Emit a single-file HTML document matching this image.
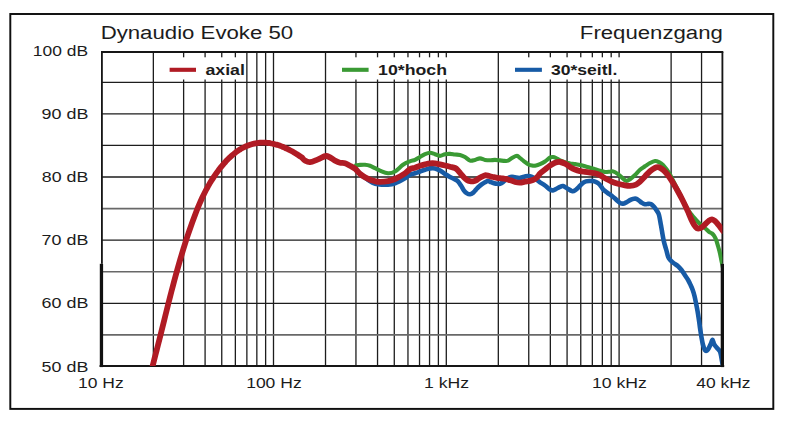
<!DOCTYPE html>
<html><head><meta charset="utf-8"><style>
html,body{margin:0;padding:0;background:#fff;overflow:hidden;}
svg{display:block;}
text{font-family:"Liberation Sans",sans-serif;fill:#1c1c1c;}
</style></head><body>
<svg width="787" height="423" viewBox="0 0 787 423">
<rect x="0" y="0" width="787" height="423" fill="#fff"/>
<rect x="10.3" y="14.0" width="763" height="394.9" fill="none" stroke="#0f0f0f" stroke-width="1.95"/>
<g stroke="#1d1d1d" stroke-width="1.3"><line x1="153.35" y1="52.0" x2="153.35" y2="366.0"/><line x1="183.62" y1="52.0" x2="183.62" y2="366.0"/><line x1="205.09" y1="52.0" x2="205.09" y2="366.0"/><line x1="221.75" y1="52.0" x2="221.75" y2="366.0"/><line x1="235.36" y1="52.0" x2="235.36" y2="366.0"/><line x1="246.87" y1="52.0" x2="246.87" y2="366.0"/><line x1="256.84" y1="52.0" x2="256.84" y2="366.0"/><line x1="265.63" y1="52.0" x2="265.63" y2="366.0"/><line x1="273.50" y1="52.0" x2="273.50" y2="366.0"/><line x1="325.52" y1="52.0" x2="325.52" y2="366.0"/><line x1="355.95" y1="52.0" x2="355.95" y2="366.0"/><line x1="377.54" y1="52.0" x2="377.54" y2="366.0"/><line x1="394.28" y1="52.0" x2="394.28" y2="366.0"/><line x1="407.96" y1="52.0" x2="407.96" y2="366.0"/><line x1="419.53" y1="52.0" x2="419.53" y2="366.0"/><line x1="429.55" y1="52.0" x2="429.55" y2="366.0"/><line x1="438.39" y1="52.0" x2="438.39" y2="366.0"/><line x1="446.30" y1="52.0" x2="446.30" y2="366.0"/><line x1="498.32" y1="52.0" x2="498.32" y2="366.0"/><line x1="528.75" y1="52.0" x2="528.75" y2="366.0"/><line x1="550.34" y1="52.0" x2="550.34" y2="366.0"/><line x1="567.08" y1="52.0" x2="567.08" y2="366.0"/><line x1="580.76" y1="52.0" x2="580.76" y2="366.0"/><line x1="592.33" y1="52.0" x2="592.33" y2="366.0"/><line x1="602.35" y1="52.0" x2="602.35" y2="366.0"/><line x1="611.19" y1="52.0" x2="611.19" y2="366.0"/><line x1="619.10" y1="52.0" x2="619.10" y2="366.0"/><line x1="671.12" y1="52.0" x2="671.12" y2="366.0"/><line x1="701.55" y1="52.0" x2="701.55" y2="366.0"/><line x1="101.9" y1="82.30" x2="722.4" y2="82.30"/><line x1="101.9" y1="113.88" x2="722.4" y2="113.88"/><line x1="101.9" y1="145.45" x2="722.4" y2="145.45"/><line x1="101.9" y1="177.02" x2="722.4" y2="177.02"/><line x1="101.9" y1="240.18" x2="722.4" y2="240.18"/><line x1="101.9" y1="303.32" x2="722.4" y2="303.32"/></g>
<g stroke="#686868" stroke-width="1.7"><line x1="101.9" y1="208.60" x2="722.4" y2="208.60"/><line x1="101.9" y1="271.75" x2="722.4" y2="271.75"/><line x1="101.9" y1="334.90" x2="722.4" y2="334.90"/></g>
<rect x="158.0" y="57.3" width="86.0" height="22.2" fill="#fff"/><rect x="331.0" y="57.3" width="162.0" height="22.2" fill="#fff"/><rect x="503.0" y="57.3" width="123.0" height="22.2" fill="#fff"/>
<g stroke="#161616" fill="none">
<line x1="101.0" y1="52.0" x2="723.3" y2="52.0" stroke-width="2"/>
<line x1="99.60000000000001" y1="366.0" x2="724.1999999999999" y2="366.0" stroke-width="2.2"/>
<line x1="101.9" y1="52.0" x2="101.9" y2="263.8" stroke-width="1.85"/>
<line x1="722.4" y1="52.0" x2="722.4" y2="263.8" stroke-width="1.85"/>
</g>
<defs><clipPath id="pc"><rect x="101.9" y="52.0" width="620.5" height="314.0"/></clipPath></defs>
<g clip-path="url(#pc)" fill="none" stroke-linecap="round" stroke-linejoin="round">
<path d="M356.00,169.50 C356.33,169.88 357.17,170.95 358.00,171.80 C358.83,172.65 359.83,173.63 361.00,174.60 C362.17,175.57 363.83,176.72 365.00,177.60 C366.17,178.48 366.83,179.10 368.00,179.90 C369.17,180.70 370.33,181.67 372.00,182.40 C373.67,183.13 375.33,183.92 378.00,184.30 C380.67,184.68 385.17,184.87 388.00,184.70 C390.83,184.53 392.17,184.37 395.00,183.30 C397.83,182.23 402.50,179.72 405.00,178.30 C407.50,176.88 408.33,175.63 410.00,174.80 C411.67,173.97 413.33,173.85 415.00,173.30 C416.67,172.75 418.33,172.08 420.00,171.50 C421.67,170.92 423.33,170.32 425.00,169.80 C426.67,169.28 428.33,168.63 430.00,168.40 C431.67,168.17 433.33,168.05 435.00,168.40 C436.67,168.75 438.33,169.57 440.00,170.50 C441.67,171.43 443.33,172.93 445.00,174.00 C446.67,175.07 448.33,176.00 450.00,176.90 C451.67,177.80 453.67,178.67 455.00,179.40 C456.33,180.13 457.00,180.27 458.00,181.30 C459.00,182.33 460.00,184.05 461.00,185.60 C462.00,187.15 463.00,189.30 464.00,190.60 C465.00,191.90 466.00,192.78 467.00,193.40 C468.00,194.02 469.00,194.38 470.00,194.30 C471.00,194.22 472.00,193.68 473.00,192.90 C474.00,192.12 475.00,190.67 476.00,189.60 C477.00,188.53 478.00,187.42 479.00,186.50 C480.00,185.58 481.00,184.82 482.00,184.10 C483.00,183.38 484.00,182.72 485.00,182.20 C486.00,181.68 487.00,181.00 488.00,181.00 C489.00,181.00 490.00,181.83 491.00,182.20 C492.00,182.57 493.00,182.93 494.00,183.20 C495.00,183.47 496.00,183.72 497.00,183.80 C498.00,183.88 499.00,183.97 500.00,183.70 C501.00,183.43 502.00,182.92 503.00,182.20 C504.00,181.48 505.00,180.18 506.00,179.40 C507.00,178.62 508.00,177.93 509.00,177.50 C510.00,177.07 511.00,176.82 512.00,176.80 C513.00,176.78 513.67,177.22 515.00,177.40 C516.33,177.58 518.33,178.05 520.00,177.90 C521.67,177.75 523.67,176.82 525.00,176.50 C526.33,176.18 526.83,175.92 528.00,176.00 C529.17,176.08 530.67,176.45 532.00,177.00 C533.33,177.55 534.67,178.42 536.00,179.30 C537.33,180.18 538.50,181.27 540.00,182.30 C541.50,183.33 543.33,184.30 545.00,185.50 C546.67,186.70 548.67,188.68 550.00,189.50 C551.33,190.32 552.00,190.48 553.00,190.40 C554.00,190.32 554.83,189.60 556.00,189.00 C557.17,188.40 558.83,187.28 560.00,186.80 C561.17,186.32 561.83,185.85 563.00,186.10 C564.17,186.35 565.50,187.47 567.00,188.30 C568.50,189.13 570.67,190.75 572.00,191.10 C573.33,191.45 573.67,191.28 575.00,190.40 C576.33,189.52 578.67,187.05 580.00,185.80 C581.33,184.55 582.00,183.63 583.00,182.90 C584.00,182.17 584.83,181.72 586.00,181.40 C587.17,181.08 588.83,181.07 590.00,181.00 C591.17,180.93 591.83,180.75 593.00,181.00 C594.17,181.25 595.83,181.83 597.00,182.50 C598.17,183.17 599.00,183.88 600.00,185.00 C601.00,186.12 602.00,188.07 603.00,189.20 C604.00,190.33 605.00,191.02 606.00,191.80 C607.00,192.58 608.00,193.20 609.00,193.90 C610.00,194.60 611.00,195.23 612.00,196.00 C613.00,196.77 614.00,197.62 615.00,198.50 C616.00,199.38 617.00,200.48 618.00,201.30 C619.00,202.12 620.00,203.05 621.00,203.40 C622.00,203.75 623.00,203.63 624.00,203.40 C625.00,203.17 626.00,202.55 627.00,202.00 C628.00,201.45 629.00,200.62 630.00,200.10 C631.00,199.58 632.00,199.13 633.00,198.90 C634.00,198.67 635.00,198.42 636.00,198.70 C637.00,198.98 638.00,199.90 639.00,200.60 C640.00,201.30 641.00,202.28 642.00,202.90 C643.00,203.52 644.00,204.13 645.00,204.30 C646.00,204.47 647.00,203.93 648.00,203.90 C649.00,203.87 650.00,203.63 651.00,204.10 C652.00,204.57 653.00,205.55 654.00,206.70 C655.00,207.85 656.17,209.62 657.00,211.00 C657.83,212.38 658.33,212.60 659.00,215.00 C659.67,217.40 660.23,221.18 661.00,225.40 C661.77,229.62 662.72,236.20 663.60,240.30 C664.48,244.40 665.53,247.22 666.30,250.00 C667.07,252.78 667.55,255.33 668.20,257.00 C668.85,258.67 669.32,259.00 670.20,260.00 C671.08,261.00 672.23,262.00 673.50,263.00 C674.77,264.00 676.47,264.83 677.80,266.00 C679.13,267.17 680.33,268.50 681.50,270.00 C682.67,271.50 683.70,273.33 684.80,275.00 C685.90,276.67 687.13,278.33 688.10,280.00 C689.07,281.67 689.83,283.33 690.60,285.00 C691.37,286.67 692.05,288.17 692.70,290.00 C693.35,291.83 693.95,293.80 694.50,296.00 C695.05,298.20 695.50,300.73 696.00,303.20 C696.50,305.67 697.00,307.95 697.50,310.80 C698.00,313.65 698.58,317.45 699.00,320.30 C699.42,323.15 699.58,325.07 700.00,327.90 C700.42,330.73 701.00,334.47 701.50,337.30 C702.00,340.13 702.42,342.75 703.00,344.90 C703.58,347.05 704.33,349.25 705.00,350.20 C705.67,351.15 706.33,351.02 707.00,350.60 C707.67,350.18 708.33,348.90 709.00,347.70 C709.67,346.50 710.42,344.72 711.00,343.40 C711.58,342.08 712.00,339.70 712.50,339.80 C713.00,339.90 713.42,342.83 714.00,344.00 C714.58,345.17 715.33,345.97 716.00,346.80 C716.67,347.63 717.33,348.22 718.00,349.00 C718.67,349.78 719.50,350.45 720.00,351.50 C720.50,352.55 720.67,353.72 721.00,355.30 C721.33,356.88 721.67,359.22 722.00,361.00 C722.33,362.78 722.83,365.17 723.00,366.00" stroke="#175ba6" stroke-width="4.6"/>
<path d="M356.00,165.40 C356.67,165.32 358.50,165.00 360.00,164.90 C361.50,164.80 363.33,164.65 365.00,164.80 C366.67,164.95 368.33,165.23 370.00,165.80 C371.67,166.37 373.33,167.40 375.00,168.20 C376.67,169.00 377.83,169.75 380.00,170.60 C382.17,171.45 385.50,173.15 388.00,173.30 C390.50,173.45 392.50,172.92 395.00,171.50 C397.50,170.08 400.50,166.50 403.00,164.80 C405.50,163.10 408.00,162.12 410.00,161.30 C412.00,160.48 413.33,160.62 415.00,159.90 C416.67,159.18 418.33,157.95 420.00,157.00 C421.67,156.05 423.33,154.90 425.00,154.20 C426.67,153.50 428.33,152.80 430.00,152.80 C431.67,152.80 433.33,153.68 435.00,154.20 C436.67,154.72 438.33,155.90 440.00,155.90 C441.67,155.90 443.33,154.53 445.00,154.20 C446.67,153.87 448.33,153.85 450.00,153.90 C451.67,153.95 453.33,154.33 455.00,154.50 C456.67,154.67 458.33,154.48 460.00,154.90 C461.67,155.32 463.33,156.05 465.00,157.00 C466.67,157.95 468.33,160.12 470.00,160.60 C471.67,161.08 473.33,160.27 475.00,159.90 C476.67,159.53 478.33,158.40 480.00,158.40 C481.67,158.40 483.33,159.58 485.00,159.90 C486.67,160.22 488.33,160.30 490.00,160.30 C491.67,160.30 493.33,159.88 495.00,159.90 C496.67,159.92 498.33,160.23 500.00,160.40 C501.67,160.57 503.67,160.87 505.00,160.90 C506.33,160.93 506.83,161.08 508.00,160.60 C509.17,160.12 510.50,158.80 512.00,158.00 C513.50,157.20 515.67,155.80 517.00,155.80 C518.33,155.80 518.83,157.08 520.00,158.00 C521.17,158.92 522.67,160.27 524.00,161.30 C525.33,162.33 526.67,163.48 528.00,164.20 C529.33,164.92 530.67,165.37 532.00,165.60 C533.33,165.83 534.67,165.83 536.00,165.60 C537.33,165.37 538.50,164.88 540.00,164.20 C541.50,163.52 543.33,162.60 545.00,161.50 C546.67,160.40 548.67,158.35 550.00,157.60 C551.33,156.85 552.00,156.93 553.00,157.00 C554.00,157.07 554.83,157.45 556.00,158.00 C557.17,158.55 558.50,159.58 560.00,160.30 C561.50,161.02 563.33,161.78 565.00,162.30 C566.67,162.82 568.33,163.10 570.00,163.40 C571.67,163.70 573.33,163.82 575.00,164.10 C576.67,164.38 578.33,164.73 580.00,165.10 C581.67,165.47 583.33,165.87 585.00,166.30 C586.67,166.73 588.33,167.23 590.00,167.70 C591.67,168.17 593.33,168.58 595.00,169.10 C596.67,169.62 598.33,170.32 600.00,170.80 C601.67,171.28 603.33,171.85 605.00,172.00 C606.67,172.15 608.67,171.80 610.00,171.70 C611.33,171.60 611.67,171.00 613.00,171.40 C614.33,171.80 616.50,173.07 618.00,174.10 C619.50,175.13 620.67,176.48 622.00,177.60 C623.33,178.72 624.67,180.53 626.00,180.80 C627.33,181.07 628.50,180.17 630.00,179.20 C631.50,178.23 633.33,176.57 635.00,175.00 C636.67,173.43 638.33,171.25 640.00,169.80 C641.67,168.35 643.33,167.43 645.00,166.30 C646.67,165.17 648.33,163.88 650.00,163.00 C651.67,162.12 653.50,161.15 655.00,161.00 C656.50,160.85 657.67,161.45 659.00,162.10 C660.33,162.75 661.67,163.60 663.00,164.90 C664.33,166.20 665.83,168.30 667.00,169.90 C668.17,171.50 669.00,172.73 670.00,174.50 C671.00,176.27 671.83,178.17 673.00,180.50 C674.17,182.83 675.67,185.83 677.00,188.50 C678.33,191.17 679.67,193.83 681.00,196.50 C682.33,199.17 683.75,202.17 685.00,204.50 C686.25,206.83 687.42,208.83 688.50,210.50 C689.58,212.17 690.58,213.32 691.50,214.50 C692.42,215.68 693.17,216.62 694.00,217.60 C694.83,218.58 695.50,219.33 696.50,220.40 C697.50,221.47 698.92,222.93 700.00,224.00 C701.08,225.07 702.00,225.97 703.00,226.80 C704.00,227.63 705.00,228.17 706.00,229.00 C707.00,229.83 708.00,231.05 709.00,231.80 C710.00,232.55 711.17,232.87 712.00,233.50 C712.83,234.13 713.33,234.58 714.00,235.60 C714.67,236.62 715.33,237.87 716.00,239.60 C716.67,241.33 717.33,243.68 718.00,246.00 C718.67,248.32 719.42,251.00 720.00,253.50 C720.58,256.00 721.00,258.58 721.50,261.00 C722.00,263.42 722.75,266.83 723.00,268.00" stroke="#3a9a34" stroke-width="4.1"/>
<path d="M150.40,374.79 C150.65,373.80 151.40,370.82 151.90,368.84 C152.40,366.87 152.90,364.91 153.40,362.95 C153.90,361.00 154.40,359.05 154.90,357.09 C155.40,355.14 155.90,353.20 156.40,351.24 C156.90,349.29 157.40,347.34 157.90,345.38 C158.40,343.42 158.90,341.45 159.40,339.47 C159.90,337.50 160.40,335.51 160.90,333.51 C161.40,331.51 161.90,329.50 162.40,327.48 C162.90,325.47 163.40,323.45 163.90,321.43 C164.40,319.40 164.90,317.38 165.40,315.36 C165.90,313.35 166.40,311.33 166.90,309.33 C167.40,307.33 167.90,305.33 168.40,303.35 C168.90,301.38 169.40,299.41 169.90,297.46 C170.40,295.51 170.90,293.57 171.40,291.65 C171.90,289.73 172.40,287.83 172.90,285.94 C173.40,284.05 173.90,282.17 174.40,280.32 C174.90,278.46 175.40,276.62 175.90,274.80 C176.40,272.98 176.90,271.18 177.40,269.39 C177.90,267.61 178.40,265.84 178.90,264.10 C179.40,262.35 179.90,260.62 180.40,258.92 C180.90,257.21 181.40,255.53 181.90,253.86 C182.40,252.20 182.90,250.55 183.40,248.93 C183.90,247.31 184.40,245.71 184.90,244.14 C185.40,242.56 185.90,241.01 186.40,239.47 C186.90,237.94 187.40,236.42 187.90,234.93 C188.40,233.43 188.90,231.96 189.40,230.51 C189.90,229.05 190.40,227.62 190.90,226.20 C191.40,224.79 191.90,223.39 192.40,222.01 C192.90,220.63 193.40,219.27 193.90,217.92 C194.40,216.58 194.90,215.25 195.40,213.94 C195.90,212.63 196.40,211.33 196.90,210.07 C197.40,208.80 197.90,207.56 198.40,206.35 C198.90,205.14 199.40,203.96 199.90,202.81 C200.40,201.66 200.90,200.54 201.40,199.44 C201.90,198.35 202.40,197.28 202.90,196.24 C203.40,195.20 203.90,194.18 204.40,193.19 C204.90,192.20 205.40,191.23 205.90,190.28 C206.40,189.34 206.90,188.42 207.40,187.51 C207.90,186.61 208.40,185.73 208.90,184.87 C209.40,184.00 209.90,183.16 210.40,182.33 C210.90,181.51 211.40,180.70 211.90,179.91 C212.40,179.11 212.90,178.34 213.40,177.58 C213.90,176.81 214.40,176.07 214.90,175.33 C215.40,174.60 215.90,173.88 216.40,173.17 C216.90,172.47 217.40,171.78 217.90,171.10 C218.40,170.42 218.90,169.75 219.40,169.10 C219.90,168.45 220.40,167.81 220.90,167.19 C221.40,166.56 221.90,165.95 222.40,165.35 C222.90,164.75 223.40,164.17 223.90,163.60 C224.40,163.02 224.90,162.46 225.40,161.92 C225.90,161.37 226.40,160.84 226.90,160.32 C227.40,159.80 227.90,159.29 228.40,158.79 C228.90,158.30 229.40,157.81 229.90,157.34 C230.40,156.87 230.90,156.41 231.40,155.97 C231.90,155.52 232.40,155.09 232.90,154.66 C233.40,154.24 233.90,153.83 234.40,153.43 C234.90,153.04 235.40,152.65 235.90,152.28 C236.40,151.90 236.90,151.54 237.40,151.19 C237.90,150.84 238.40,150.50 238.90,150.17 C239.40,149.84 239.90,149.53 240.40,149.22 C240.90,148.92 241.40,148.62 241.90,148.34 C242.40,148.06 242.90,147.79 243.40,147.53 C243.90,147.27 244.40,147.02 244.90,146.78 C245.40,146.54 245.90,146.31 246.40,146.09 C246.90,145.88 247.40,145.67 247.90,145.47 C248.40,145.28 248.90,145.09 249.40,144.92 C249.90,144.74 250.40,144.58 250.90,144.42 C251.40,144.27 251.90,144.12 252.40,143.99 C252.90,143.86 253.40,143.73 253.90,143.62 C254.40,143.50 254.90,143.40 255.40,143.30 C255.90,143.21 256.40,143.12 256.90,143.05 C257.40,142.97 257.90,142.91 258.40,142.85 C258.90,142.80 259.40,142.75 259.90,142.71 C260.40,142.67 260.90,142.65 261.40,142.63 C261.90,142.61 262.40,142.60 262.90,142.60 C263.40,142.59 263.90,142.60 264.40,142.62 C264.90,142.64 265.40,142.66 265.90,142.70 C266.40,142.73 266.90,142.77 267.40,142.82 C267.90,142.88 268.40,142.94 268.90,143.00 C269.40,143.07 269.90,143.15 270.40,143.23 C270.90,143.32 271.40,143.41 271.90,143.51 C272.40,143.61 272.90,143.72 273.40,143.84 C273.90,143.95 274.40,144.08 274.90,144.21 C275.40,144.34 275.90,144.48 276.40,144.62 C276.90,144.77 277.40,144.92 277.90,145.08 C278.40,145.24 278.90,145.41 279.40,145.59 C279.90,145.76 280.40,145.94 280.90,146.13 C281.40,146.32 281.90,146.51 282.40,146.72 C282.90,146.92 283.40,147.12 283.90,147.34 C284.40,147.55 284.90,147.77 285.40,148.00 C285.90,148.23 286.40,148.46 286.90,148.70 C287.40,148.94 287.90,149.18 288.40,149.44 C288.90,149.69 289.40,149.94 289.90,150.21 C290.40,150.47 290.90,150.74 291.40,151.01 C291.90,151.28 292.40,151.56 292.90,151.84 C293.40,152.13 293.90,152.42 294.40,152.71 C294.90,153.01 295.40,153.30 295.90,153.61 C296.40,153.91 296.90,154.22 297.40,154.53 C297.90,154.85 298.40,155.17 298.90,155.49 C299.40,155.81 299.90,156.14 300.40,156.47 C300.90,156.80 301.13,156.78 301.90,157.47 C302.67,158.16 303.65,159.81 305.00,160.60 C306.35,161.39 307.83,162.40 310.00,162.20 C312.17,162.00 315.25,160.43 318.00,159.40 C320.75,158.37 323.67,155.80 326.50,156.00 C329.33,156.20 332.75,159.48 335.00,160.60 C337.25,161.72 338.33,162.25 340.00,162.70 C341.67,163.15 343.33,162.78 345.00,163.30 C346.67,163.82 348.33,164.92 350.00,165.80 C351.67,166.68 353.67,167.60 355.00,168.60 C356.33,169.60 357.00,170.80 358.00,171.80 C359.00,172.80 359.83,173.68 361.00,174.60 C362.17,175.52 363.50,176.43 365.00,177.30 C366.50,178.17 368.33,179.15 370.00,179.80 C371.67,180.45 373.33,180.87 375.00,181.20 C376.67,181.53 377.83,181.82 380.00,181.80 C382.17,181.78 385.50,181.57 388.00,181.10 C390.50,180.63 392.17,180.30 395.00,179.00 C397.83,177.70 402.50,174.95 405.00,173.30 C407.50,171.65 408.33,170.03 410.00,169.10 C411.67,168.17 413.33,168.25 415.00,167.70 C416.67,167.15 418.33,166.35 420.00,165.80 C421.67,165.25 423.33,164.80 425.00,164.40 C426.67,164.00 428.33,163.57 430.00,163.40 C431.67,163.23 433.33,163.23 435.00,163.40 C436.67,163.57 438.33,164.05 440.00,164.40 C441.67,164.75 443.33,165.12 445.00,165.50 C446.67,165.88 448.33,166.28 450.00,166.70 C451.67,167.12 453.67,167.38 455.00,168.00 C456.33,168.62 457.00,169.37 458.00,170.40 C459.00,171.43 460.00,173.02 461.00,174.20 C462.00,175.38 463.00,176.53 464.00,177.50 C465.00,178.47 466.00,179.38 467.00,180.00 C468.00,180.62 469.00,180.97 470.00,181.20 C471.00,181.43 472.00,181.53 473.00,181.40 C474.00,181.27 475.00,180.93 476.00,180.40 C477.00,179.87 478.00,178.83 479.00,178.20 C480.00,177.57 481.00,177.08 482.00,176.60 C483.00,176.12 484.00,175.47 485.00,175.30 C486.00,175.13 487.00,175.38 488.00,175.60 C489.00,175.82 490.00,176.33 491.00,176.60 C492.00,176.87 493.00,177.00 494.00,177.20 C495.00,177.40 496.00,177.63 497.00,177.80 C498.00,177.97 499.00,178.08 500.00,178.20 C501.00,178.32 502.00,178.38 503.00,178.50 C504.00,178.62 505.00,178.67 506.00,178.90 C507.00,179.13 508.00,179.58 509.00,179.90 C510.00,180.22 511.00,180.45 512.00,180.80 C513.00,181.15 513.67,181.70 515.00,182.00 C516.33,182.30 518.33,182.65 520.00,182.60 C521.67,182.55 523.33,181.98 525.00,181.70 C526.67,181.42 528.33,181.35 530.00,180.90 C531.67,180.45 533.67,179.77 535.00,179.00 C536.33,178.23 537.17,177.22 538.00,176.30 C538.83,175.38 538.83,174.63 540.00,173.50 C541.17,172.37 543.33,170.82 545.00,169.50 C546.67,168.18 548.33,166.72 550.00,165.60 C551.67,164.48 553.33,163.40 555.00,162.80 C556.67,162.20 558.33,161.85 560.00,162.00 C561.67,162.15 563.33,162.88 565.00,163.70 C566.67,164.52 568.33,165.93 570.00,166.90 C571.67,167.87 573.33,168.80 575.00,169.50 C576.67,170.20 578.33,170.70 580.00,171.10 C581.67,171.50 583.33,171.65 585.00,171.90 C586.67,172.15 588.33,172.38 590.00,172.60 C591.67,172.82 593.33,172.77 595.00,173.20 C596.67,173.63 598.17,174.27 600.00,175.20 C601.83,176.13 604.00,177.70 606.00,178.80 C608.00,179.90 610.00,180.97 612.00,181.80 C614.00,182.63 616.00,183.23 618.00,183.80 C620.00,184.37 622.00,184.85 624.00,185.20 C626.00,185.55 628.00,186.00 630.00,185.90 C632.00,185.80 634.33,185.32 636.00,184.60 C637.67,183.88 638.50,182.97 640.00,181.60 C641.50,180.23 643.33,178.13 645.00,176.40 C646.67,174.67 648.33,172.63 650.00,171.20 C651.67,169.77 653.67,168.47 655.00,167.80 C656.33,167.13 656.83,167.00 658.00,167.20 C659.17,167.40 660.67,168.08 662.00,169.00 C663.33,169.92 664.75,171.30 666.00,172.70 C667.25,174.10 668.17,175.43 669.50,177.40 C670.83,179.37 672.58,182.15 674.00,184.50 C675.42,186.85 676.67,189.08 678.00,191.50 C679.33,193.92 680.67,196.38 682.00,199.00 C683.33,201.62 684.90,204.87 686.00,207.20 C687.10,209.53 687.73,211.00 688.60,213.00 C689.47,215.00 690.30,217.27 691.20,219.20 C692.10,221.13 693.03,223.10 694.00,224.60 C694.97,226.10 696.00,227.58 697.00,228.20 C698.00,228.82 699.00,228.62 700.00,228.30 C701.00,227.98 702.00,227.12 703.00,226.30 C704.00,225.48 705.00,224.35 706.00,223.40 C707.00,222.45 708.00,221.27 709.00,220.60 C710.00,219.93 711.00,219.32 712.00,219.40 C713.00,219.48 714.00,220.27 715.00,221.10 C716.00,221.93 717.00,223.22 718.00,224.40 C719.00,225.58 720.17,227.10 721.00,228.20 C721.83,229.30 722.67,230.53 723.00,231.00" stroke="#b01b24" stroke-width="5.8"/>
</g>
<g stroke="#111" fill="none" stroke-width="3.3">
<line x1="101.45" y1="263.8" x2="101.45" y2="367.1"/>
<line x1="722.35" y1="263.8" x2="722.35" y2="367.1"/>
</g>
<g fill="none" stroke-width="4.1">
<line x1="169.6" y1="69.8" x2="196" y2="69.8" stroke="#b01b24"/>
<line x1="342" y1="69.8" x2="368.6" y2="69.8" stroke="#3a9a34"/>
<line x1="515" y1="69.8" x2="541.9" y2="69.8" stroke="#175ba6"/>
</g>
<text x="100.65" y="38.70" font-size="18.00" textLength="192.51" lengthAdjust="spacingAndGlyphs">Dynaudio Evoke 50</text><text x="579.85" y="38.60" font-size="18.00" textLength="142.99" lengthAdjust="spacingAndGlyphs">Frequenzgang</text><text x="32.86" y="55.90" font-size="13.75" textLength="55.22" lengthAdjust="spacingAndGlyphs">100 dB</text><text x="41.54" y="119.10" font-size="13.75" textLength="46.84" lengthAdjust="spacingAndGlyphs">90 dB</text><text x="41.86" y="182.10" font-size="13.75" textLength="46.51" lengthAdjust="spacingAndGlyphs">80 dB</text><text x="41.64" y="245.10" font-size="13.75" textLength="46.74" lengthAdjust="spacingAndGlyphs">70 dB</text><text x="41.54" y="308.20" font-size="13.75" textLength="46.84" lengthAdjust="spacingAndGlyphs">60 dB</text><text x="41.64" y="371.80" font-size="13.75" textLength="46.74" lengthAdjust="spacingAndGlyphs">50 dB</text><text x="78.05" y="387.60" font-size="14.40" textLength="45.68" lengthAdjust="spacingAndGlyphs">10 Hz</text><text x="246.15" y="387.60" font-size="14.40" textLength="55.51" lengthAdjust="spacingAndGlyphs">100 Hz</text><text x="424.04" y="387.60" font-size="14.40" textLength="45.06" lengthAdjust="spacingAndGlyphs">1 kHz</text><text x="592.04" y="387.60" font-size="14.40" textLength="54.90" lengthAdjust="spacingAndGlyphs">10 kHz</text><text x="696.19" y="387.60" font-size="14.40" textLength="54.34" lengthAdjust="spacingAndGlyphs">40 kHz</text><text x="205.40" y="75.00" font-size="14.00" font-weight="bold" textLength="39.51" lengthAdjust="spacingAndGlyphs">axial</text><text x="378.10" y="75.00" font-size="14.00" font-weight="bold" textLength="68.87" lengthAdjust="spacingAndGlyphs">10*hoch</text><text x="550.90" y="75.00" font-size="14.00" font-weight="bold" textLength="66.41" lengthAdjust="spacingAndGlyphs">30*seitl.</text>
</svg>
</body></html>
